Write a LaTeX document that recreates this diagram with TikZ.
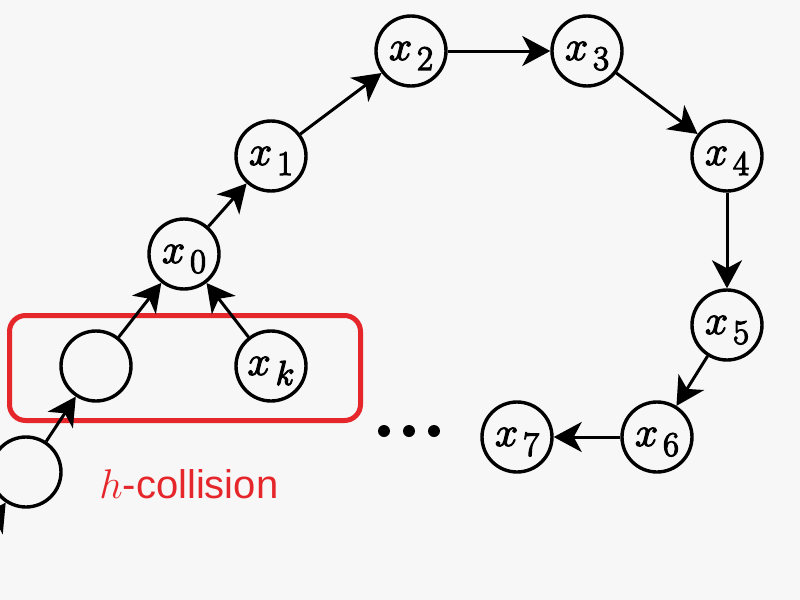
\documentclass[tikz,border=0pt]{standalone}
\usepackage{fontspec}
\setsansfont{Liberation Sans}
\usetikzlibrary{arrows.meta}
\definecolor{bg}{HTML}{F7F7F7}
\definecolor{hred}{HTML}{E5262B}
\newcommand\heavyon{\special{pdf:literal direct 2 Tr 0.6 w}}
\newcommand\heavyoff{\special{pdf:literal direct 0 Tr}}
\newcommand\xlab[1]{\heavyon$x$\kern2.5pt\raisebox{-5pt}[0pt][0pt]{\fontsize{18}{20}\selectfont$#1$}\heavyoff}
\begin{document}
\begin{tikzpicture}[x=0.5pt,y=-0.5pt,
  state/.style={circle,draw,line width=1.7pt,minimum size=35pt,inner sep=0pt,
    font=\fontsize{21}{25}\selectfont},
  arr/.style={-{Stealth[length=14pt,width=15pt,inset=4pt]},line width=1.5pt},
  collbox/.style={draw=hred,line width=2.5pt,rounded corners=8pt,inner sep=0pt},
  dotn/.style={circle,fill=black,minimum size=6pt,inner sep=0pt}]
\useasboundingbox (0,0) rectangle (800,600);
\fill[bg] (0,0) rectangle (800,600);
\clip (0,0) rectangle (800,600);
% red box
\node[collbox,minimum width=175.5pt,minimum height=52.5pt] (box) at (185,368) {};
% nodes
\node[state] (x2) at (411,51) {\xlab{2}};
\node[state] (x3) at (587,51) {\xlab{3}};
\node[state] (x1) at (271,156) {\xlab{1}};
\node[state] (x4) at (727,156) {\xlab{4}};
\node[state] (x0) at (184,254) {\xlab{0}};
\node[state] (x5) at (727,325) {\xlab{5}};
\node[state] (e) at (96,366) {};
\node[state] (xk) at (271,366) {\xlab{k}};
\node[state] (x6) at (657,437) {\xlab{6}};
\node[state] (x7) at (517,437) {\xlab{7}};
\node[state] (p) at (26,472) {};
\coordinate (offb) at (-57,597);
% dots
\node[dotn] (d1) at (384,431) {};
\node[dotn] (d2) at (409,431) {};
\node[dotn] (d3) at (434,431) {};
% label
\node[text=hred,font=\sffamily\fontsize{20}{24}\selectfont,anchor=base west,inner sep=0pt] (lbl) at (99,498) {{\fontsize{22}{26}\selectfont$h$}-collision};
% edges
\draw[arr] (offb) -- (p);
\draw[arr] (p) -- (e);
\draw[arr] (e) -- (x0);
\draw[arr] (xk) -- (x0);
\draw[arr] (x0) -- (x1);
\draw[arr] (x1) -- (x2);
\draw[arr] (x2) -- (x3);
\draw[arr] (x3) -- (x4);
\draw[arr] (x4) -- (x5);
\draw[arr] (x5) -- (x6);
\draw[arr] (x6) -- (x7);
\end{tikzpicture}
\end{document}
